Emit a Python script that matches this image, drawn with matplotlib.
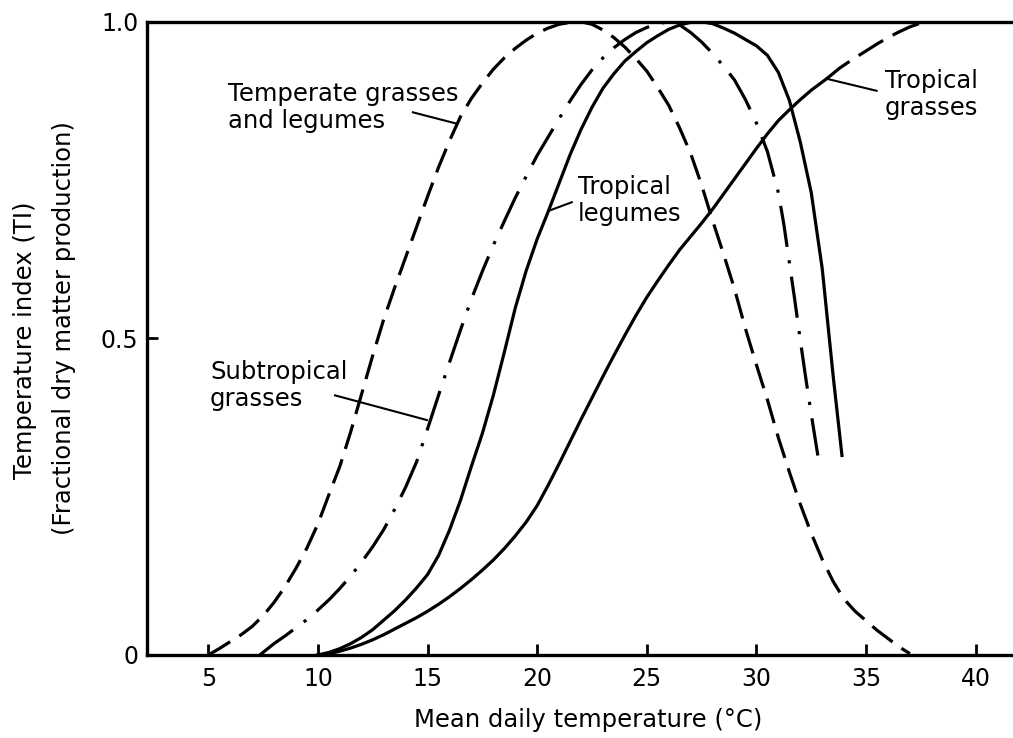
import matplotlib
matplotlib.use("Agg")
import matplotlib.pyplot as plt

plt.rcParams['font.family'] = ['DejaVu Sans']

# temperate grasses and legumes (dashed)
temperate_x = [5, 5.5, 6, 6.5, 7, 7.5, 8, 8.5, 9, 9.5, 10, 10.5, 11, 11.5, 12, 12.5, 13, 13.5, 14, 14.5,
               15, 15.5, 16, 16.5, 17, 17.5, 18, 18.5, 19, 19.5, 20, 20.5, 21, 21.5, 22, 22.5, 23, 23.5,
               24, 24.5, 25, 25.5, 26, 26.5, 27, 27.5, 28, 28.5, 29, 29.5, 30, 30.5, 31, 31.5, 32, 32.5,
               33, 33.5, 34, 34.5, 35, 35.5, 36, 36.5, 37]
temperate_y = [0, 0.01, 0.021, 0.032, 0.045, 0.062, 0.083, 0.108, 0.137, 0.169, 0.207, 0.253, 0.298, 0.353,
               0.413, 0.473, 0.53, 0.58, 0.628, 0.676, 0.724, 0.77, 0.812, 0.85, 0.879, 0.903, 0.925, 0.943,
               0.958, 0.971, 0.982, 0.99, 0.996, 0.999, 1.0, 0.996, 0.987, 0.975, 0.96, 0.942, 0.922, 0.896,
               0.868, 0.832, 0.792, 0.742, 0.686, 0.633, 0.578, 0.515, 0.458, 0.403, 0.343, 0.289, 0.238,
               0.192, 0.151, 0.116, 0.088, 0.069, 0.054, 0.039, 0.026, 0.013, 0.002]

# subtropical grasses (dash-dot)
subtrop_x = [7.35, 8, 8.5, 9, 9.5, 10, 10.5, 11, 11.5, 12, 12.5, 13, 13.5, 14, 14.5, 15, 15.5, 16, 16.5,
             17, 17.5, 18, 18.5, 19, 19.5, 20, 20.5, 21, 21.5, 22, 22.5, 23, 23.5, 24, 24.5, 25, 25.5, 26,
             26.5, 27, 27.5, 28, 28.5, 29, 29.5, 30, 30.5, 31, 31.25, 31.5, 31.75, 32, 32.25, 32.5, 32.8]
subtrop_y = [0, 0.018, 0.03, 0.043, 0.056, 0.071, 0.087, 0.105, 0.125, 0.147, 0.171, 0.198, 0.23, 0.265,
             0.305, 0.357, 0.41, 0.462, 0.513, 0.562, 0.606, 0.647, 0.685, 0.722, 0.756, 0.789, 0.818, 0.847,
             0.875, 0.901, 0.924, 0.943, 0.959, 0.972, 0.983, 0.991, 0.997, 1.0, 0.995, 0.983, 0.968, 0.95,
             0.93, 0.908, 0.877, 0.84, 0.795, 0.73, 0.68, 0.62, 0.56, 0.497, 0.437, 0.38, 0.315]

# tropical legumes (solid)
trleg_x = [10, 10.5, 11, 11.5, 12, 12.5, 13, 13.5, 14, 14.5, 15, 15.5, 16, 16.5, 17, 17.5, 18, 18.5, 19,
           19.5, 20, 20.5, 21, 21.5, 22, 22.5, 23, 23.5, 24, 24.5, 25, 25.5, 26, 26.5, 27, 27.5, 28, 28.5,
           29, 29.5, 30, 30.5, 31, 31.5, 32, 32.5, 33, 33.5, 33.9]
trleg_y = [0, 0.004, 0.01, 0.018, 0.028, 0.04, 0.055, 0.07, 0.087, 0.106, 0.127, 0.157, 0.197, 0.244, 0.298,
           0.35, 0.41, 0.478, 0.548, 0.607, 0.657, 0.70, 0.745, 0.79, 0.83, 0.865, 0.895, 0.918, 0.938, 0.953,
           0.967, 0.978, 0.988, 0.995, 0.999, 1.0, 0.997, 0.99, 0.982, 0.972, 0.962, 0.947, 0.92, 0.876, 0.81,
           0.73, 0.61, 0.44, 0.315]

# tropical grasses (solid, then dashed)
trgr_x = [10, 10.5, 11, 11.5, 12, 12.5, 13, 13.5, 14, 14.5, 15, 15.5, 16, 16.5, 17, 17.5, 18, 18.5, 19,
          19.5, 20, 20.5, 21, 21.5, 22, 22.5, 23, 23.5, 24, 24.5, 25, 25.5, 26, 26.5, 27, 27.5, 28, 28.5,
          29, 29.5, 30, 30.5, 31, 31.5, 32, 32.5, 33.2]
trgr_y = [0, 0.002, 0.006, 0.011, 0.017, 0.024, 0.032, 0.041, 0.05, 0.059, 0.069, 0.08, 0.092, 0.105, 0.119,
          0.134, 0.15, 0.168, 0.188, 0.21, 0.236, 0.268, 0.302, 0.337, 0.372, 0.406, 0.44, 0.473, 0.505, 0.536,
          0.565, 0.591, 0.616, 0.64, 0.661, 0.682, 0.704, 0.728, 0.752, 0.776, 0.80, 0.823, 0.844, 0.861,
          0.877, 0.892, 0.91]
trgr_dash_x = [33.2, 33.8, 34.4, 35, 35.5, 36, 36.5, 37, 37.5, 38]
trgr_dash_y = [0.91, 0.927, 0.941, 0.954, 0.965, 0.975, 0.984, 0.992, 0.998, 1.0]

xticks = [5, 10, 15, 20, 25, 30, 35, 40]
yticks = [0, 0.5, 1.0]
yticklabels = ['0', '0.5', '1.0']

fig = plt.figure(figsize=(10.13, 7.38), dpi=100)
ax = fig.add_axes([0.145, 0.1125, 0.855, 0.858])

lw = 2.3
ax.plot(temperate_x, temperate_y, color='black', lw=lw, dashes=(8, 3.4))
ax.plot(subtrop_x, subtrop_y, color='black', lw=lw, dashes=(13, 4.2, 1, 4.2))
ax.plot(trleg_x, trleg_y, color='black', lw=lw)
ax.plot(trgr_x, trgr_y, color='black', lw=lw)
ax.plot(trgr_dash_x, trgr_dash_y, color='black', lw=lw, dashes=(9, 3.4))

# labels with leader lines
fs = 17.5
ax.text(5.9, 0.864, 'Temperate grasses\nand legumes', fontsize=fs, va='center', ha='left', linespacing=1.15)
ax.plot([14.33, 16.34], [0.857, 0.839], color='black', lw=1.5)
ax.text(5.08, 0.426, 'Subtropical\ngrasses', fontsize=fs, va='center', ha='left', linespacing=1.15)
ax.plot([10.78, 14.97], [0.41, 0.371], color='black', lw=1.5)
ax.text(21.85, 0.718, 'Tropical\nlegumes', fontsize=fs, va='center', ha='left', linespacing=1.15)
ax.plot([20.57, 21.58], [0.702, 0.715], color='black', lw=1.5)
ax.text(35.85, 0.885, 'Tropical\ngrasses', fontsize=fs, va='center', ha='left', linespacing=1.15)
ax.plot([33.2, 35.48], [0.91, 0.891], color='black', lw=1.5)

ax.set_xlim(2.2, 41.7)
ax.set_ylim(0, 1.0)
ax.set_xticks(xticks)
ax.set_yticks(yticks)
ax.set_yticklabels(yticklabels)
ax.tick_params(direction='in', length=8, width=2, labelsize=17, color='black')
ax.tick_params(axis='x', pad=9)
ax.tick_params(axis='y', pad=6)
ax.spines['right'].set_visible(False)
for s in ['left', 'bottom', 'top']:
    ax.spines[s].set_linewidth(2.4)

fig.text(25 / 1013, 1 - 340 / 738, 'Temperature index (TI)', rotation=90, fontsize=fs, ha='center', va='center')
fig.text(64 / 1013, 1 - 328 / 738, '(Fractional dry matter production)', rotation=90, fontsize=fs,
         ha='center', va='center')
fig.text(588 / 1013, 1 - 720 / 738, 'Mean daily temperature (°C)', fontsize=fs, ha='center', va='center')

fig.savefig('out.png', dpi=100)
